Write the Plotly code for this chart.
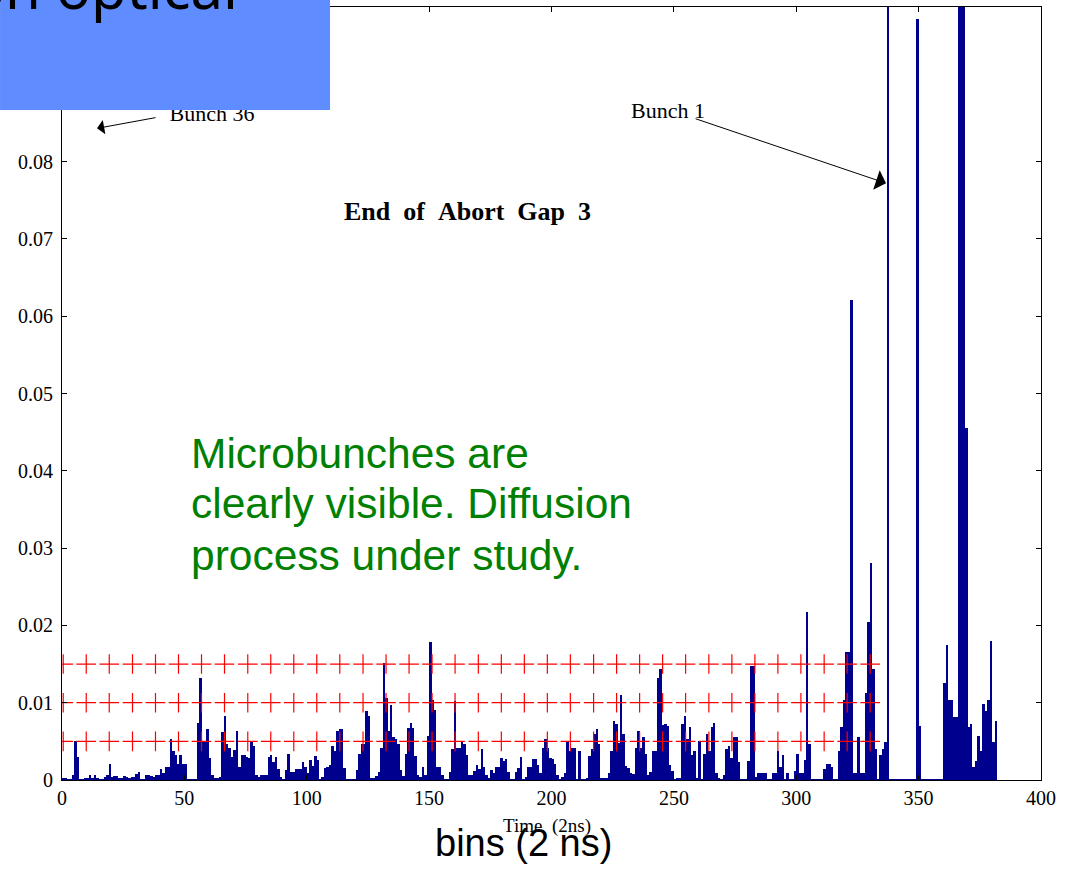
import plotly.graph_objects as go

# Signal per 2 ns time bin, bins 0..381 (tall off-scale bunches set to 0.12)
counts_000_099 = [
    0.0003, 0.0002, 0.0001, 0.0001, 0.0006, 0.0050, 0.0030, 0.0001, 0.0001, 0.0003,
    0.0003, 0.0006, 0.0003, 0.0006, 0.0002, 0.0001, 0.0001, 0.0004, 0.0006, 0.0021,
    0.0004, 0.0005, 0.0005, 0.0002, 0.0002, 0.0005, 0.0004, 0.0002, 0.0004, 0.0004,
    0.0008, 0.0010, 0.0001, 0.0001, 0.0007, 0.0007, 0.0005, 0.0004, 0.0006, 0.0006,
    0.0014, 0.0009, 0.0017, 0.0017, 0.0053, 0.0038, 0.0032, 0.0021, 0.0032, 0.0021,
    0.0021, 0.0001, 0.0001, 0.0001, 0.0001, 0.0074, 0.0132, 0.0050, 0.0050, 0.0066,
    0.0028, 0.0006, 0.0002, 0.0002, 0.0004, 0.0062, 0.0083, 0.0047, 0.0042, 0.0030,
    0.0039, 0.0063, 0.0017, 0.0032, 0.0032, 0.0030, 0.0028, 0.0049, 0.0044, 0.0006,
    0.0004, 0.0006, 0.0006, 0.0006, 0.0030, 0.0032, 0.0023, 0.0030, 0.0014, 0.0004,
    0.0001, 0.0013, 0.0034, 0.0011, 0.0011, 0.0014, 0.0014, 0.0014, 0.0023, 0.0017,
]
counts_100_199 = [
    0.0009, 0.0026, 0.0018, 0.0031, 0.0026, 0.0001, 0.0004, 0.0015, 0.0017, 0.0019,
    0.0044, 0.0037, 0.0063, 0.0066, 0.0066, 0.0015, 0.0000, 0.0000, 0.0000, 0.0000,
    0.0013, 0.0034, 0.0047, 0.0047, 0.0089, 0.0083, 0.0003, 0.0003, 0.0005, 0.0010,
    0.0042, 0.0152, 0.0106, 0.0064, 0.0097, 0.0056, 0.0053, 0.0047, 0.0013, 0.0005,
    0.0033, 0.0067, 0.0074, 0.0067, 0.0031, 0.0006, 0.0004, 0.0017, 0.0006, 0.0057,
    0.0179, 0.0103, 0.0090, 0.0017, 0.0017, 0.0006, 0.0000, 0.0001, 0.0010, 0.0040,
    0.0102, 0.0042, 0.0042, 0.0049, 0.0047, 0.0032, 0.0006, 0.0006, 0.0012, 0.0019,
    0.0014, 0.0040, 0.0017, 0.0006, 0.0002, 0.0013, 0.0009, 0.0017, 0.0017, 0.0029,
    0.0024, 0.0027, 0.0011, 0.0001, 0.0000, 0.0010, 0.0015, 0.0030, 0.0001, 0.0004,
    0.0017, 0.0017, 0.0027, 0.0027, 0.0019, 0.0009, 0.0042, 0.0053, 0.0042, 0.0029,
]
counts_200_299 = [
    0.0027, 0.0021, 0.0006, 0.0001, 0.0004, 0.0009, 0.0050, 0.0037, 0.0041, 0.0042,
    0.0001, 0.0038, 0.0000, 0.0000, 0.0002, 0.0031, 0.0040, 0.0059, 0.0066, 0.0046,
    0.0002, 0.0003, 0.0003, 0.0009, 0.0037, 0.0076, 0.0072, 0.0048, 0.0110, 0.0059,
    0.0018, 0.0015, 0.0009, 0.0008, 0.0042, 0.0063, 0.0042, 0.0055, 0.0033, 0.0006,
    0.0011, 0.0037, 0.0037, 0.0132, 0.0144, 0.0071, 0.0073, 0.0070, 0.0019, 0.0012,
    0.0001, 0.0002, 0.0003, 0.0072, 0.0083, 0.0053, 0.0068, 0.0032, 0.0037, 0.0002,
    0.0050, 0.0001, 0.0034, 0.0060, 0.0037, 0.0068, 0.0074, 0.0009, 0.0003, 0.0000,
    0.0006, 0.0040, 0.0044, 0.0028, 0.0055, 0.0055, 0.0023, 0.0000, 0.0001, 0.0000,
    0.0025, 0.0147, 0.0147, 0.0004, 0.0009, 0.0009, 0.0009, 0.0009, 0.0000, 0.0000,
    0.0009, 0.0009, 0.0038, 0.0017, 0.0032, 0.0000, 0.0009, 0.0000, 0.0000, 0.0012,
]
counts_300_381 = [
    0.0034, 0.0009, 0.0009, 0.0026, 0.0217, 0.0047, 0.0000, 0.0000, 0.0000, 0.0000,
    0.0000, 0.0014, 0.0021, 0.0021, 0.0017, 0.0000, 0.0000, 0.0038, 0.0068, 0.0103,
    0.0165, 0.0165, 0.0621, 0.0009, 0.0009, 0.0055, 0.0009, 0.0009, 0.0112, 0.0204,
    0.0281, 0.0144, 0.0040, 0.0000, 0.0032, 0.0040, 0.0049, 0.1200, 0.0000, 0.0000,
    0.0000, 0.0000, 0.0000, 0.0000, 0.0000, 0.0000, 0.0000, 0.0000, 0.0000, 0.0984,
    0.0070, 0.0000, 0.0000, 0.0000, 0.0000, 0.0000, 0.0000, 0.0000, 0.0000, 0.0000,
    0.0126, 0.0175, 0.0104, 0.0104, 0.0081, 0.0081, 0.1200, 0.1200, 0.1200, 0.0456,
    0.0068, 0.0072, 0.0017, 0.0025, 0.0057, 0.0038, 0.0098, 0.0089, 0.0103, 0.0180,
    0.0049, 0.0076,
]
counts = counts_000_099 + counts_100_199 + counts_200_299 + counts_300_381

# Threshold markers (three levels) and their time positions
threshold_levels = [0.005, 0.010, 0.015]
threshold_x = [
    0.5, 9.9, 19.3, 28.8, 38.2, 47.6, 57.0, 66.4, 75.9, 85.3, 94.7, 104.1,
    113.5, 123.0, 132.4, 141.8, 151.2, 160.6, 170.1, 179.5, 188.9, 198.3,
    207.7, 217.2, 226.6, 236.0, 245.4, 254.8, 264.3, 273.7, 283.1, 292.5,
    301.9, 311.4, 320.8, 330.2,
]

x_ticks = [0, 50, 100, 150, 200, 250, 300, 350, 400]
y_ticks = [0, 0.01, 0.02, 0.03, 0.04, 0.05, 0.06, 0.07, 0.08]
y_tick_text = ["0", "0.01", "0.02", "0.03", "0.04", "0.05", "0.06", "0.07", "0.08"]

note_lines = ["Microbunches are", "clearly visible. Diffusion", "process under study."]
note_line_y = [0.0423, 0.0358, 0.0291]

BAR_COLOR = "#00008f"
SERIF = "Liberation Serif, Times New Roman, serif"
SANS = "Liberation Sans, Arial, sans-serif"

bin_centers = [i + 0.5 for i in range(len(counts))]

fig = go.Figure()

fig.add_trace(go.Bar(
    x=bin_centers, y=counts, width=1.0,
    marker=dict(color=BAR_COLOR, line=dict(width=0)),
    hoverinfo="skip", showlegend=False,
))

# bar baseline drawn along the populated bins
fig.add_trace(go.Scatter(
    x=[0, len(counts)], y=[0, 0], mode="lines",
    line=dict(color=BAR_COLOR, width=2), hoverinfo="skip", showlegend=False,
    cliponaxis=False,
))

for level in threshold_levels:
    fig.add_trace(go.Scatter(
        x=threshold_x, y=[level] * len(threshold_x), mode="markers",
        marker=dict(symbol="cross-thin", size=14, line=dict(color="#ff0000", width=1.2)),
        hoverinfo="skip", showlegend=False,
    ))

# label sitting just under the header box (partly hidden by it)
fig.add_trace(go.Scatter(
    x=[61.3], y=[0.0860], mode="text", text=["Bunch 36"],
    textfont=dict(family=SERIF, size=22, color="black"),
    hoverinfo="skip", showlegend=False, cliponaxis=False,
))

axis_common = dict(
    showline=True, linecolor="black", linewidth=1, mirror="ticks",
    ticks="inside", ticklen=5, tickcolor="black",
    showgrid=False, zeroline=False,
    tickfont=dict(family=SERIF, size=20, color="black"),
)

fig.update_xaxes(range=[0, 400], tickvals=x_ticks, **axis_common)
fig.update_yaxes(range=[0, 0.1], tickvals=y_ticks, ticktext=y_tick_text,
                 ticklabelstandoff=4, **axis_common)

annotations = [
    dict(text="on optical", xref="paper", yref="paper",
         x=0.1818, y=1.027, xanchor="right", yanchor="middle",
         showarrow=False, font=dict(family="Noto Sans, sans-serif", size=58, color="black")),
    dict(text="", x=14.3, y=0.0843, ax=60, ay=-11, showarrow=True,
         arrowhead=1, arrowsize=2.4, arrowwidth=1, arrowcolor="black", standoff=0),
    dict(text="Bunch 1", x=247.5, y=0.0866, xanchor="center", yanchor="middle",
         showarrow=False, font=dict(family=SERIF, size=22, color="black")),
    dict(text="", x=336.7, y=0.0772, ax=-192, ay=-65, showarrow=True,
         arrowhead=1, arrowsize=3.4, arrowwidth=1, arrowcolor="black", standoff=0),
    dict(text="<b>End\u2002of\u2002Abort\u2002Gap\u20023</b>", x=165.8, y=0.0735,
         xanchor="center", yanchor="middle", showarrow=False,
         font=dict(family=SERIF, size=26, color="black")),
    dict(text="Time  (2ns)", xref="paper", yref="paper",
         x=0.4953, y=-0.0595, xanchor="center", yanchor="middle",
         showarrow=False, font=dict(family=SERIF, size=19, color="black")),
    dict(text="bins (2 ns)", xref="paper", yref="paper",
         x=0.4719, y=-0.0815, xanchor="center", yanchor="middle",
         showarrow=False, font=dict(family=SANS, size=38, color="black")),
]
for line_text, line_y in zip(note_lines, note_line_y):
    annotations.append(dict(
        text=line_text, x=51.9, y=line_y, xanchor="left", yanchor="middle",
        showarrow=False, font=dict(family=SANS, size=42.5, color="#008000"),
    ))

fig.update_layout(
    width=1073, height=869,
    margin=dict(l=62, r=32, t=7, b=89),
    plot_bgcolor="white", paper_bgcolor="white",
    bargap=0, showlegend=False,
    shapes=[dict(
        type="rect", xref="paper", yref="paper",
        x0=-0.0633, x1=0.2738, y0=0.8668, y1=1.02,
        fillcolor="#5f8cff", line=dict(width=0), layer="above",
    )],
    annotations=annotations,
)

fig.write_html("out.html")
